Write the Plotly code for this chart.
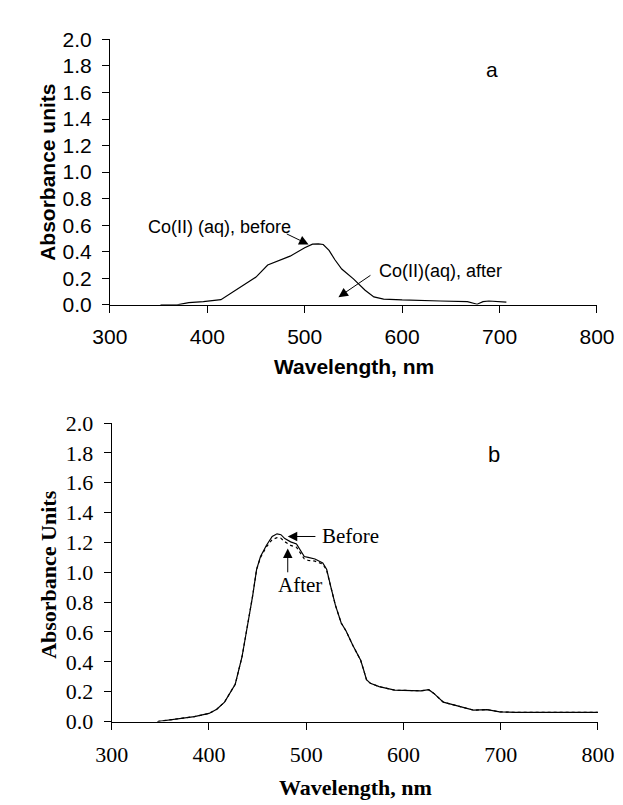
import plotly.graph_objects as go

# ---- Panel a data (Co(II) aq, before) ----
a_wavelength = [352, 369, 381, 396, 414, 431, 450, 462, 485, 500, 508, 514, 519, 525,
                531, 538, 550, 562, 571, 581, 600, 639, 667, 677, 683, 689, 707]
a_before = [0.0, 0.0, 0.017, 0.024, 0.039, 0.12, 0.209, 0.30, 0.367, 0.43, 0.457, 0.46,
            0.455, 0.41, 0.34, 0.27, 0.196, 0.11, 0.06, 0.044, 0.037, 0.029, 0.024,
            0.005, 0.024, 0.029, 0.02]

# ---- Panel b data ----
b_wavelength = [347, 366, 385, 400, 408, 416, 423, 427, 434, 440, 445, 449, 453, 459, 465,
                470, 474, 478, 484, 490, 494, 498, 502, 509, 517, 521, 525, 530, 536,
                541, 548, 556, 559, 562, 566, 575, 591, 618, 626, 631, 641, 657, 672,
                686, 699, 715, 800]
b_before = [0.0, 0.015, 0.033, 0.054, 0.082, 0.13, 0.206, 0.25, 0.434, 0.65, 0.846, 1.02,
            1.106, 1.18, 1.24, 1.258, 1.252, 1.226, 1.204, 1.19, 1.15, 1.106, 1.10, 1.089,
            1.063, 1.02, 0.91, 0.78, 0.66, 0.607, 0.51, 0.41, 0.347, 0.28, 0.256, 0.234,
            0.21, 0.206, 0.213, 0.19, 0.13, 0.104, 0.076, 0.08, 0.065, 0.061, 0.061]
b_after = [0.0, 0.015, 0.033, 0.054, 0.082, 0.13, 0.206, 0.25, 0.434, 0.65, 0.846, 1.02,
           1.10, 1.17, 1.22, 1.232, 1.228, 1.205, 1.18, 1.168, 1.13, 1.09, 1.08, 1.075,
           1.055, 1.015, 0.91, 0.78, 0.66, 0.607, 0.51, 0.41, 0.347, 0.28, 0.256, 0.234,
           0.21, 0.206, 0.213, 0.19, 0.13, 0.104, 0.076, 0.08, 0.065, 0.061, 0.061]

y_ticks = [0.0, 0.2, 0.4, 0.6, 0.8, 1.0, 1.2, 1.4, 1.6, 1.8, 2.0]
x_ticks = [300, 400, 500, 600, 700, 800]

W, H = 623, 805
ARIAL = "Liberation Sans"
TIMES = "Liberation Serif"

fig = go.Figure()
fig.add_trace(go.Scatter(x=a_wavelength, y=a_before, mode="lines",
                         line=dict(color="black", width=1.2), xaxis="x", yaxis="y",
                         showlegend=False))
fig.add_trace(go.Scatter(x=b_wavelength, y=b_after, mode="lines",
                         line=dict(color="black", width=1.2, dash="dot"), xaxis="x2", yaxis="y2",
                         showlegend=False))
fig.add_trace(go.Scatter(x=b_wavelength, y=b_before, mode="lines",
                         line=dict(color="black", width=1.2), xaxis="x2", yaxis="y2",
                         showlegend=False))

def px_x(p):
    return p / W

def px_y(p):
    return 1 - p / H

def axis_common(font, size):
    return dict(showline=True, linecolor="black", linewidth=1, ticks="outside",
                ticklen=7, tickcolor="black", tickwidth=1, showgrid=False,
                zeroline=False, ticklabeloverflow="allow", ticklabelstandoff=6,
                tickfont=dict(family=font, size=size, color="black"))

fig.update_layout(
    width=W, height=H, margin=dict(l=0, r=0, t=0, b=0),
    paper_bgcolor="white", plot_bgcolor="white",
    xaxis=dict(domain=[px_x(89), px_x(606)], range=[300, 800], tickvals=x_ticks,
               anchor="y", **axis_common(ARIAL, 21)),
    yaxis=dict(domain=[px_y(294), px_y(20)], range=[0, 2], tickvals=y_ticks,
               tickformat=".1f", anchor="x", **axis_common(ARIAL, 21)),
    xaxis2=dict(domain=[px_x(91), px_x(607)], range=[300, 800], tickvals=x_ticks,
                anchor="y2", **axis_common(TIMES, 22)),
    yaxis2=dict(domain=[px_y(724), px_y(416)], range=[0, 2], tickvals=y_ticks,
                tickformat=".1f", anchor="x2", **axis_common(TIMES, 22)),
)

C = dict(xanchor="center", yanchor="middle", showarrow=False)
ARW = dict(showarrow=True, arrowhead=2, arrowsize=1.9, arrowwidth=1, arrowcolor="black")
ann = []
# axis titles (paper coords)
ann.append(dict(text="<b>Absorbance units</b>", x=px_x(22), y=px_y(157), xref="paper", yref="paper",
                textangle=-90, font=dict(family=ARIAL, size=21, color="black"), **C))
ann.append(dict(text="<b>Wavelength, nm</b>", x=px_x(348), y=px_y(358), xref="paper", yref="paper",
                font=dict(family=ARIAL, size=21, color="black"), **C))
ann.append(dict(text="<b>Absorbance Units</b>", x=px_x(24), y=px_y(572), xref="paper", yref="paper",
                textangle=-90, font=dict(family=TIMES, size=22, color="black"), **C))
ann.append(dict(text="<b>Wavelength, nm</b>", x=px_x(350), y=px_y(792), xref="paper", yref="paper",
                font=dict(family=TIMES, size=22, color="black"), **C))

# panel labels
ann.append(dict(text="a", x=692, y=1.77, xref="x", yref="y",
                font=dict(family=ARIAL, size=21, color="black"), **C))
ann.append(dict(text="b", x=693, y=1.79, xref="x2", yref="y2",
                font=dict(family=ARIAL, size=22, color="black"), **C))

# panel a annotations
ann.append(dict(text="Co(II) (aq), before", x=413, y=0.584, xref="x", yref="y",
                font=dict(family=ARIAL, size=18, color="black"), **C))
ann.append(dict(text="", x=504, y=0.455, ax=480, ay=0.54, xref="x", yref="y", axref="x", ayref="y", **ARW))
ann.append(dict(text="Co(II)(aq), after", x=639, y=0.255, xref="x", yref="y",
                font=dict(family=ARIAL, size=18, color="black"), **C))
ann.append(dict(text="", x=534.6, y=0.058, ax=569, ay=0.23, xref="x", yref="y", axref="x", ayref="y", **ARW))

# panel b annotations
ann.append(dict(text="Before", x=546, y=1.242, xref="x2", yref="y2",
                font=dict(family=TIMES, size=21, color="black"), **C))
ann.append(dict(text="", x=481, y=1.24, ax=511, ay=1.24, xref="x2", yref="y2", axref="x2", ayref="y2", **ARW))
ann.append(dict(text="After", x=494, y=0.914, xref="x2", yref="y2",
                font=dict(family=TIMES, size=21, color="black"), **C))
ann.append(dict(text="", x=481, y=1.16, ax=481, ay=0.99, xref="x2", yref="y2", axref="x2", ayref="y2", **ARW))

fig.update_layout(annotations=ann)
fig.write_html("out.html")
